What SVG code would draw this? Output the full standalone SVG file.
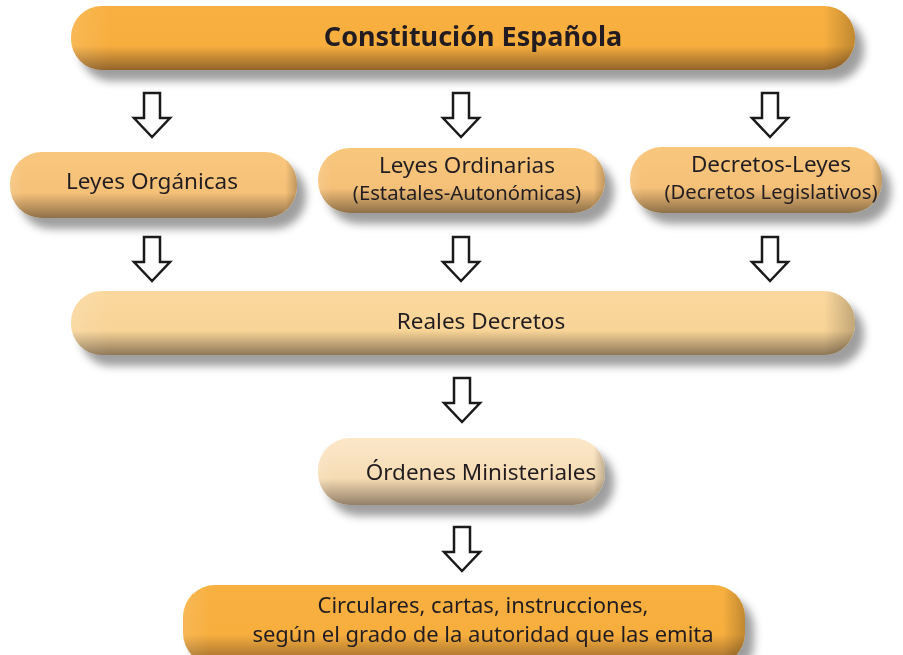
<svg xmlns="http://www.w3.org/2000/svg" width="903" height="655" viewBox="0 0 903 655">
<style>
  .t{font-family:"Noto Sans","Open Sans","Liberation Sans",sans-serif;fill:#231f20;text-anchor:middle;font-size:22.5px}
  .s{font-size:20.3px}
  .c{font-size:22px}
  .arrow{fill:#fff;stroke:#1a1a1a;stroke-width:2.5;stroke-linejoin:miter}
</style>
<defs>
  <filter id="sh" x="-10%" y="-40%" width="125%" height="200%">
    <feGaussianBlur in="SourceAlpha" stdDeviation="4.5"/>
    <feOffset dx="9" dy="11" result="b"/>
    <feFlood flood-color="#000" flood-opacity="0.38"/>
    <feComposite in2="b" operator="in" result="s"/>
    <feMerge><feMergeNode in="s"/><feMergeNode in="SourceGraphic"/></feMerge>
  </filter>
  <linearGradient id="gOrange" x1="0" y1="0" x2="0" y2="1">
    <stop offset="0" stop-color="#f8b040"/>
    <stop offset="0.62" stop-color="#f7ae3e"/>
    <stop offset="1" stop-color="#93642a"/>
  </linearGradient>
  <linearGradient id="gMid" x1="0" y1="0" x2="0" y2="1">
    <stop offset="0" stop-color="#f8c77c"/>
    <stop offset="0.62" stop-color="#f5c078"/>
    <stop offset="1" stop-color="#8e7048"/>
  </linearGradient>
  <linearGradient id="gLight" x1="0" y1="0" x2="0" y2="1">
    <stop offset="0" stop-color="#fbd89e"/>
    <stop offset="0.62" stop-color="#f8d497"/>
    <stop offset="1" stop-color="#8e7858"/>
  </linearGradient>
  <linearGradient id="gPale" x1="0" y1="0" x2="0" y2="1">
    <stop offset="0" stop-color="#fbe7c9"/>
    <stop offset="0.6" stop-color="#f6dcb4"/>
    <stop offset="1" stop-color="#938068"/>
  </linearGradient>
  <linearGradient id="gSide" x1="0" y1="0" x2="1" y2="0">
    <stop offset="0" stop-color="#fff" stop-opacity="0.12"/>
    <stop offset="0.05" stop-color="#fff" stop-opacity="0"/>
    <stop offset="0.96" stop-color="#000" stop-opacity="0"/>
    <stop offset="1" stop-color="#000" stop-opacity="0.22"/>
  </linearGradient>
</defs>

<g id="connectors">
  <path class="arrow" d="M144,93 H160 V118 H170 L152,137 L134,118 H144 Z"/>
  <path class="arrow" d="M453,93 H469 V118 H479 L461,137 L443,118 H453 Z"/>
  <path class="arrow" d="M762,93 H778 V118 H788 L770,137 L752,118 H762 Z"/>
  <path class="arrow" d="M144,237 H160 V262 H170 L152,281 L134,262 H144 Z"/>
  <path class="arrow" d="M453,237 H469 V262 H479 L461,281 L443,262 H453 Z"/>
  <path class="arrow" d="M762,237 H778 V262 H788 L770,281 L752,262 H762 Z"/>
  <path class="arrow" d="M454,378 H470 V403 H480 L462,422 L444,403 H454 Z"/>
  <path class="arrow" d="M454,527 H470 V552 H480 L462,571 L444,552 H454 Z"/>
</g>

<g id="constitucion" filter="url(#sh)">
  <rect x="71" y="6" width="784" height="64" rx="31" fill="url(#gOrange)"/>
  <rect x="71" y="6" width="784" height="64" rx="31" fill="url(#gSide)"/>
  <text class="t" x="473" y="46" style="font-size:27px" font-weight="bold">Constitución Española</text>
</g>

<g id="organicas" filter="url(#sh)">
  <rect x="10" y="152" width="287" height="66" rx="32" fill="url(#gMid)"/>
  <rect x="10" y="152" width="287" height="66" rx="32" fill="url(#gSide)"/>
  <text class="t" x="152" y="189">Leyes Orgánicas</text>
</g>

<g id="ordinarias" filter="url(#sh)">
  <rect x="318" y="148" width="287" height="65" rx="32" fill="url(#gMid)"/>
  <rect x="318" y="148" width="287" height="65" rx="32" fill="url(#gSide)"/>
  <text class="t" x="467" y="173">Leyes Ordinarias</text>
  <text class="t s" x="467" y="200">(Estatales-Autonómicas)</text>
</g>

<g id="decretos-leyes" filter="url(#sh)">
  <rect x="630" y="147" width="252" height="66" rx="32" fill="url(#gMid)"/>
  <rect x="630" y="147" width="252" height="66" rx="32" fill="url(#gSide)"/>
  <text class="t" x="771" y="172">Decretos-Leyes</text>
  <text class="t s" x="771" y="199">(Decretos Legislativos)</text>
</g>

<g id="reales" filter="url(#sh)">
  <rect x="71" y="291" width="784" height="64" rx="31" fill="url(#gLight)"/>
  <rect x="71" y="291" width="784" height="64" rx="31" fill="url(#gSide)"/>
  <text class="t" x="481" y="329">Reales Decretos</text>
</g>

<g id="ordenes" filter="url(#sh)">
  <rect x="318" y="438" width="287" height="67" rx="32" fill="url(#gPale)"/>
  <rect x="318" y="438" width="287" height="67" rx="32" fill="url(#gSide)"/>
  <text class="t" x="481" y="480">Órdenes Ministeriales</text>
</g>

<g id="circulares" filter="url(#sh)">
  <rect x="183" y="585" width="562" height="80" rx="32" fill="url(#gOrange)"/>
  <rect x="183" y="585" width="562" height="80" rx="32" fill="url(#gSide)"/>
  <text class="t c" x="483" y="613">Circulares, cartas, instrucciones,</text>
  <text class="t c" x="483" y="642">según el grado de la autoridad que las emita</text>
</g>
</svg>
